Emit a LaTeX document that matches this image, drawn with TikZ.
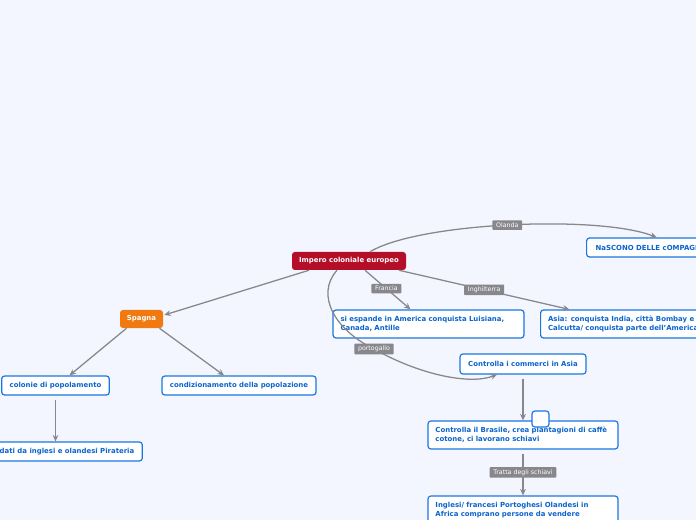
\documentclass[tikz,border=0pt]{standalone}
\usepackage{fontspec}
\setmainfont{DejaVu Sans}
\usetikzlibrary{arrows.meta, positioning}
\definecolor{bgblue}{RGB}{243,246,254}
\definecolor{mapblue}{RGB}{25,118,226}
\definecolor{textblue}{RGB}{10,100,205}
\definecolor{rootred}{RGB}{180,14,40}
\definecolor{spainorange}{RGB}{240,122,16}
\definecolor{linkgray}{RGB}{135,135,140}

\begin{document}
\begin{tikzpicture}[x=0.75pt, y=-0.75pt, >=Stealth]

  \tikzset{
    topic/.style = {
      rectangle, draw=mapblue, fill=white, line width=0.9pt,
      rounded corners=2.2pt, minimum height=14.25pt, inner xsep=6pt,
      inner ysep=2pt, font=\fontsize{5.2}{6.6}\selectfont\bfseries,
      text=textblue
    },
    widetopic/.style = {
      topic, align=left, minimum height=21pt, inner xsep=5.6pt
    },
    central/.style = {
      rectangle, fill=rootred, rounded corners=2.2pt,
      minimum height=13.5pt, font=\fontsize{5.2}{6.6}\selectfont\bfseries,
      text=white
    },
    mainbranch/.style = {
      central, fill=spainorange
    },
    link/.style = {
      -{Stealth[length=4.8pt, width=4.3pt]}, linkgray, line width=0.95pt
    },
    lbl/.style = {
      rectangle, fill=linkgray, rounded corners=0.6pt, text=white,
      font=\fontsize{4.7}{5.5}\selectfont, inner xsep=2.8pt, inner ysep=1.7pt
    }
  }

  \useasboundingbox (0,0) rectangle (696,520);
  \clip (0,0) rectangle (696,520);
  \fill [bgblue] (0,0) rectangle (696,520);

  % --- centre and Spain ------------------------------------------------------
  \node (root)   [central, minimum width=85.5pt] at (349,261)
    {Impero coloniale europeo};
  \node (spagna) [mainbranch, minimum width=32.25pt] at (141.5,319) {Spagna};

  \node (colonie) [topic, minimum width=80.25pt] at (55.5,385.5)
    {colonie di popolamento};
  \node (condiz)  [topic, minimum width=115.5pt] at (239,385.5)
    {condizionamento della popolazione};
  \node (pirati)  [topic, minimum width=112.5pt] at (67,451.5)
    {dati da inglesi e olandesi Pirateria};

  % --- the other powers ------------------------------------------------------
  \node (francia) [widetopic, text width=132pt] at (428.5,324)
    {si espande in America conquista Luisiana,\\ Canada, Antille};
  \node (inghil)  [widetopic, anchor=west, text width=150pt] at (540,324)
    {Asia: conquista India, città Bombay e\\ Calcutta/ conquista parte dell'America};
  \node (olanda)  [topic, anchor=west, inner xsep=6.75pt] at (586,247.5)
    {NaSCONO DELLE cOMPAGNIE};

  % --- Portugal --------------------------------------------------------------
  \node (commerci) [topic, minimum width=94.5pt, minimum height=15pt] at (523,364)
    {Controlla i commerci in Asia};
  \node (brasile)  [widetopic, text width=131.3pt] at (523,435)
    {Controlla il Brasile, crea plantagioni di caffè\\ cotone, ci lavorano schiavi};
  \node (vuoto)    [topic, minimum width=12.75pt, minimum height=12pt,
                    inner sep=0pt] at (540.5,419) {};
  \node (schiavi)  [widetopic, text width=131.3pt] at (523,510)
    {Inglesi/ francesi Portoghesi Olandesi in\\ Africa comprano persone da vendere};

  % --- connectors ------------------------------------------------------------
  \draw [link] ([xshift=-30pt]root.south) -- ([xshift=0.75pt,yshift=3pt]spagna.east);
  \draw [link] ([xshift=12pt]root.south) -- node [lbl, pos=0.47] {Francia}
    ([xshift=-13.5pt]francia.north);
  \draw [link] ([xshift=37.5pt]root.south) -- node [lbl, pos=0.5] {Inghilterra}
    ([xshift=22pt]inghil.north west);
  \draw [link] ([xshift=15.75pt]root.north) .. controls (420,222) and (600,215) ..
    node [lbl, pos=0.49] {Olanda} ([xshift=53pt]olanda.north west);
  \draw [link] ([xshift=-9pt]root.south) .. controls (315,295) and (335,330) ..
    (374,349) node [lbl] {portogallo}
    .. controls (420,375) and (470,385) .. ([xshift=-19.5pt]commerci.south);

  \draw [link] ([xshift=-11.25pt]spagna.south) -- ([xshift=10.5pt]colonie.north);
  \draw [link] ([xshift=13.5pt]spagna.south) -- ([xshift=-11.25pt]condiz.north);
  \draw [link] ([yshift=-3pt]colonie.south) -- (colonie.south |- pirati.north);

  \draw [link] ([yshift=-3pt]commerci.south) -- (brasile.north);
  \draw [link] ([yshift=-3pt]brasile.south) -- node [lbl, pos=0.45] {Tratta degli schiavi}
    (schiavi.north);

\end{tikzpicture}
\end{document}
